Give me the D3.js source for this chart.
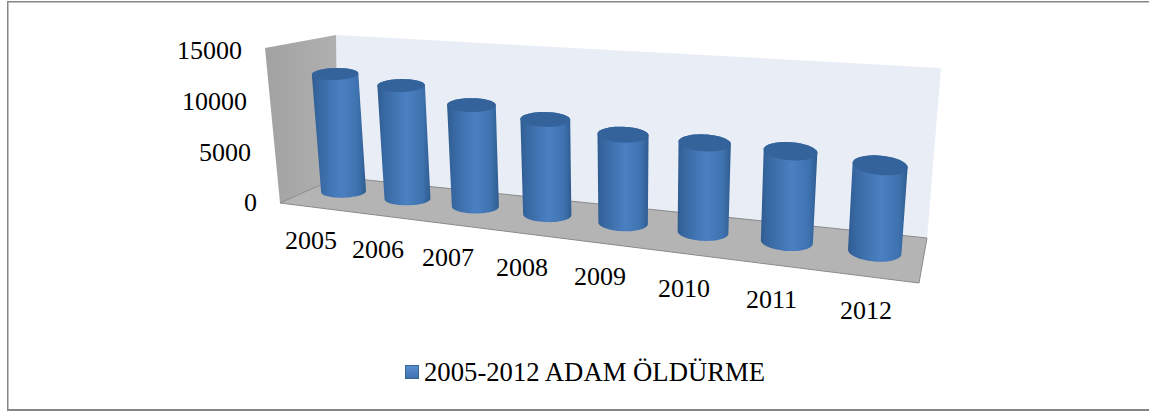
<!DOCTYPE html>
<html><head><meta charset="utf-8">
<script src="https://cdn.jsdelivr.net/npm/d3@7"></script>
<style>html,body{margin:0;background:#fff}svg{display:block}text{font-family:"Liberation Serif",serif;fill:#000}</style>
</head><body><svg id="c" width="1149" height="411"></svg>
<script>
const categories=["2005","2006","2007","2008","2009","2010","2011","2012"];
const values=[11800,11150,9780,8980,8170,8060,7970,7430];
const yTicks=[0,5000,10000,15000];
const seriesName="2005-2012 ADAM ÖLDÜRME";
const floorCorners=[[280,203],[919,283],[927,238],[338,177]];
const ceilCorners=[[265,48],[934,95],[941,68],[336,35]];
const labelX=[285,352,422,496,574,658,746,840];
const labelBase=[249,258,266,276,285,297,308,319];
const tickRight=[257,251,247,242];
const tickBase=[211,161,110,59];

function bil(q){return (u,v)=>{const f=[0,1].map(k=>{const a=q[0][k]+(q[1][k]-q[0][k])*u,b=q[3][k]+(q[2][k]-q[3][k])*u;return a+(b-a)*v;});return f;};}
const floorH=bil(floorCorners),ceilH=bil(ceilCorners);
const wallT=d3.scaleLinear().domain([0,15000]).range([0,1]);
function project(a,b,val){const t=wallT(val),p=floorH(a,b),q=ceilH(a,b);return [p[0]+(q[0]-p[0])*t,p[1]+(q[1]-p[1])*t];}

// bar layout scales
const posU=d3.scalePow().exponent(2).domain([15.5,22.5]).range([.05,.92]);
const lean=d3.scaleLinear().domain([0,1]).range([-.08,.075]);
const fullH=d3.scaleLinear().domain([0,1]).range([148,177]);
const rxBase=d3.scaleLinear().domain([0,1]).range([22.2,27.2]);
const rxTop=d3.scaleLinear().domain([0,1]).range([23,28]);
const ryS=d3.scaleLinear().domain([0,1]).range([5.8,10]);
const tilt=d3.scaleLinear().domain([0,1]).range([-2,6]);
const vMid=0.57;

const svg=d3.select("#c");
const line=d3.line();
const defs=svg.append("defs");
const g=defs.append("linearGradient").attr("id","cyl");
[[0,"#2f5b8f"],[.1,"#36669f"],[.55,"#4a80c2"],[.85,"#3e72af"],[1,"#2f5c90"]].forEach(s=>g.append("stop").attr("offset",s[0]).attr("stop-color",s[1]));
const g2=defs.append("linearGradient").attr("id","lg").attr("x1",0).attr("x2",0).attr("y1",0).attr("y2",1);
[[0,"#5b8fd0"],[1,"#3f70ad"]].forEach(s=>g2.append("stop").attr("offset",s[0]).attr("stop-color",s[1]));
const g3=defs.append("linearGradient").attr("id","wall").attr("x1",0).attr("x2",1).attr("y1",0).attr("y2",0);
[[0,"#a2a2a2"],[1,"#b0b0b0"]].forEach(s=>g3.append("stop").attr("offset",s[0]).attr("stop-color",s[1]));

const fr=svg.append("g").attr("fill","#868686");
fr.append("rect").attr("x",7).attr("y",1).attr("width",1142).attr("height",1.5);
fr.append("rect").attr("x",7).attr("y",1).attr("width",1.5).attr("height",409);
fr.append("rect").attr("x",7).attr("y",409).attr("width",1142).attr("height",2);

svg.append("path").attr("fill","#e8edf6").attr("d",line([project(0,1,0),project(1,1,0),project(1,1,15000),project(0,1,15000)])+"Z");
svg.append("path").attr("fill","url(#wall)").attr("d",line([project(0,0,0),project(0,1,0),project(0,1,15000),project(0,0,15000)])+"Z");
svg.append("path").attr("fill","#b4b4b4").attr("stroke","#8a8a8a").attr("d",line([project(0,0,0),project(1,0,0),project(1,1,0)])+"L"+project(0,1,0)+"Z");

const angles=d3.range(0,360,6).map(d=>d*Math.PI/180);
categories.forEach((c,i)=>{
  const uu=posU(i+15.5);
  const b=floorH(uu,vMid);
  const h=values[i]/15000*fullH(uu);
  const tc=[b[0]+lean(uu)*h,b[1]-h];
  const a=tilt(uu)*Math.PI/180;
  const ring=(cc,rx)=>angles.map(t=>{const ex=rx*Math.cos(t),ey=ryS(uu)*Math.sin(t);return [cc[0]+ex*Math.cos(a)-ey*Math.sin(a),cc[1]+ex*Math.sin(a)+ey*Math.cos(a)];});
  const base=ring(b,rxBase(uu)),top=ring(tc,rxTop(uu));
  svg.append("path").attr("fill","url(#cyl)").attr("d",line(d3.polygonHull(base.concat(top)))+"Z");
  svg.append("path").attr("fill","#34639b").attr("d",line(top)+"Z");
});

svg.selectAll(".yt").data(yTicks).join("text").attr("font-size",26).attr("text-anchor","end").attr("x",(d,i)=>tickRight[i]).attr("y",(d,i)=>tickBase[i]).text(d=>d);
svg.selectAll(".xt").data(categories).join("text").attr("font-size",26).attr("x",(d,i)=>labelX[i]).attr("y",(d,i)=>labelBase[i]).text(d=>d);

svg.append("rect").attr("x",405.5).attr("y",365.5).attr("width",13).attr("height",13).attr("fill","url(#lg)").attr("stroke","#3a6496");
svg.append("text").attr("x",424).attr("y",381).attr("font-size",26.7).text(seriesName);
</script></body></html>
